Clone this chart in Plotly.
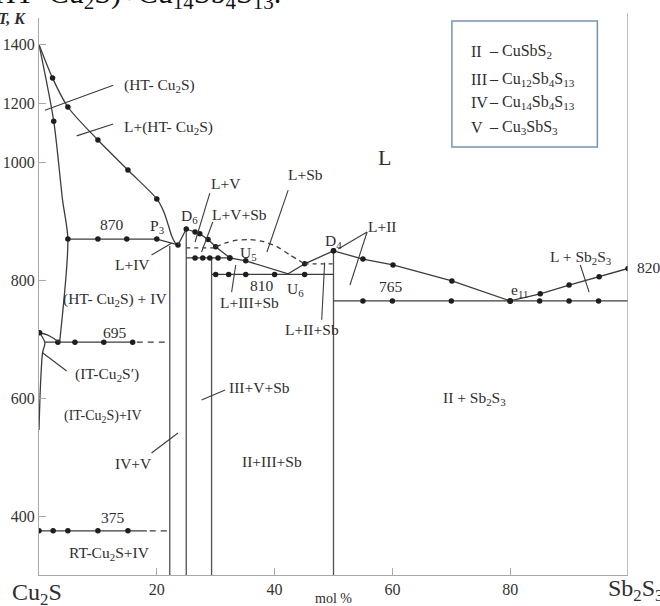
import plotly.graph_objects as go

# ---------------- data (x: mol % Sb2S3, T: K) ----------------
liq_cu2s_x = [0, 2.3, 4.9, 10.0, 15.1, 20.0, 21.2, 22.0, 22.5, 23.1, 23.6]
liq_cu2s_T = [1400, 1286, 1188, 1076, 987, 938, 916, 892, 876, 864, 860]
liq_cu2s_dx = [2.3, 4.9, 10.0, 15.1, 20.0]
liq_cu2s_dT = [1286, 1188, 1076, 987, 938]

solvus_x = [0, 2.5, 4.0, 4.9, 3.5]
solvus_T = [1400, 1140, 936, 870, 695]
solvus_dx = [2.5]
solvus_dT = [1140]

l870_x = [4.9, 10.0, 14.9, 20.0, 23.6]
l870_T = [870, 870, 870, 870, 860]
l870_dx = [4.9, 10.0, 14.9, 20.0, 23.6]
l870_dT = [870, 870, 870, 870, 860]

p3_d6_x = [23.6, 25.0]
p3_d6_T = [860, 887]

liq_mid_x = [25.0, 26.5, 27.3, 28.7, 30.0, 32.4, 35.1, 42.3, 45.1, 50.0]
liq_mid_T = [887, 882, 879, 869, 857, 838, 833, 811, 828, 850]
liq_mid_dx = [25.0, 26.5, 27.3, 28.7, 30.0, 32.4, 35.1, 45.1, 50.0]
liq_mid_dT = [887, 882, 879, 869, 857, 838, 833, 828, 850]

l838_x = [25.0, 26.5, 27.8, 29.0, 30.4, 32.4]
l838_T = [838, 838, 838, 838, 838, 838]
l838_dx = [26.5, 27.8, 29.0, 30.4, 32.4]
l838_dT = [838, 838, 838, 838, 838]

l810_x = [29.3, 30.0, 32.2, 35.1, 40.0, 45.1, 50.0]
l810_T = [810, 810, 810, 810, 810, 810, 810]
l810_dx = [30.0, 32.2, 35.1, 40.0, 45.1]
l810_dT = [810, 810, 810, 810, 810]

d855_x = [25.0, 30.0]
d855_T = [855, 855]
arc_x = [30.0, 31.9, 33.6, 35.8, 38.0, 40.4, 42.6, 45.1]
arc_T = [857, 864, 868, 869, 866, 857, 843, 828]
d828_x = [45.1, 50.0]
d828_T = [828, 828]

liq_right_x = [50.0, 55.0, 60.1, 70.1, 80.0]
liq_right_T = [850, 836, 826, 799, 765]
liq_sb_x = [80.0, 85.1, 90.0, 95.1, 100.0]
liq_sb_T = [765, 777, 792, 806, 820]

l765_x = [50, 55, 60, 70, 80, 85, 90, 95, 100]
l765_T = [765] * 9
l765_dx = [55, 60, 70, 80, 85, 90, 95]
l765_dT = [765] * 7

l695_x = [1.0, 3.2, 6.1, 11.0, 15.9]
l695_T = [695, 695, 695, 695, 695]
l695_dx = [3.2, 6.1, 11.0, 15.9]
l695_dT = [695, 695, 695, 695]
l695_dash_x = [16.6, 22.2]
l695_dash_T = [695, 695]

l375_x = [0, 2.4, 4.9, 10.0, 15.1, 18.3]
l375_T = [375, 375, 375, 375, 375, 375]
l375_dx = [0, 2.4, 4.9, 10.0, 15.1]
l375_dT = [375, 375, 375, 375, 375]
l375_dash_x = [18.8, 22.2]
l375_dash_T = [375, 375]

it_arc_x = [0.1, 1.5, 2.7, 3.5]
it_arc_T = [711, 707, 700, 695]
it_bound_x = [0.1, 1.0, 0.6, 0.24, 0.0]
it_bound_T = [711, 694, 677, 619, 546]
it_dot_x = [0.1]
it_dot_T = [711]

vert_x = [22.2, 25.0, 29.3, 50.0]
vert_top = [858, 887, 838, 850]
T_min = 300

leaders = [
    ([1.0, 12.6], [1177, 1262]),
    ([6.4, 12.6], [1090, 1130]),
    ([29.0, 26.5], [948, 865]),
    ([42.3, 38.7], [953, 848]),
    ([29.5, 27.6], [899, 848]),
    ([33.4, 32.7], [826, 780]),
    ([48.5, 48.0], [830, 733]),
    ([19.1, 22.5], [843, 863]),
    ([0.6, 4.7], [677, 646]),
    ([31.6, 27.6], [614, 597]),
    ([19.1, 23.6], [507, 541]),
    ([55.7, 50.8], [882, 853]),
    ([55.7, 52.8], [882, 792]),
    ([91.9, 93.4], [826, 780]),
]

labels = [
    ("(HT- Cu<sub>2</sub>S)", 14.1, 1262, "left", 15.5),
    ("L+(HT- Cu<sub>2</sub>S)", 14.1, 1120, "left", 15.5),
    ("L", 58.6, 1018, "center", 22),
    ("L+V", 31.7, 965, "center", 15.5),
    ("L+Sb", 45.2, 979, "center", 15.5),
    ("L+V+Sb", 34.1, 911, "center", 15.5),
    ("U<sub>5</sub>", 35.5, 845, "center", 15.5),
    ("810", 37.9, 792, "center", 15.5),
    ("U<sub>6</sub>", 43.5, 785, "center", 15.5),
    ("L+III+Sb", 35.7, 762, "center", 15.5),
    ("L+II+Sb", 46.4, 716, "center", 15.5),
    ("D<sub>4</sub>", 50.0, 866, "center", 15.5),
    ("D<sub>6</sub>", 25.5, 909, "center", 15.5),
    ("P<sub>3</sub>", 20.0, 892, "center", 15.5),
    ("870", 12.4, 894, "center", 15.5),
    ("L+IV", 15.8, 826, "center", 15.5),
    ("(HT- Cu<sub>2</sub>S) + IV", 12.9, 768, "center", 15.5),
    ("695", 12.9, 711, "center", 15.5),
    ("(IT-Cu<sub>2</sub>S′)", 11.5, 641, "center", 15.5),
    ("III+V+Sb", 37.5, 618, "center", 15.5),
    ("(IT-Cu<sub>2</sub>S)+IV", 10.8, 569, "center", 14),
    ("IV+V", 16.0, 490, "center", 15.5),
    ("II+III+Sb", 39.5, 492, "center", 15.5),
    ("II + Sb<sub>2</sub>S<sub>3</sub>", 74.0, 600, "center", 15.5),
    ("L+II", 58.4, 891, "center", 15.5),
    ("765", 59.8, 789, "center", 15.5),
    ("e<sub>11</sub>", 81.5, 783, "center", 15.5),
    ("L + Sb<sub>2</sub>S<sub>3</sub>", 91.9, 838, "center", 15.5),
    ("RT-Cu<sub>2</sub>S+IV", 12.0, 336, "center", 15.5),
    ("375", 12.5, 397, "center", 15.5),
]

legend_num = ["II", "III", "IV", "V"]
legend_form = ["– CuSbS<sub>2</sub>", "– Cu<sub>12</sub>Sb<sub>4</sub>S<sub>13</sub>",
               "– Cu<sub>14</sub>Sb<sub>4</sub>S<sub>13</sub>", "– Cu<sub>3</sub>SbS<sub>3</sub>"]
legend_T = [1375, 1280, 1202, 1120]

y_tick_T = [400, 600, 800, 1000, 1200, 1400]
x_ticks = [20, 40, 60, 80]

# ---------------- scale: upper part (>1000 K) compressed by 2 ----------------
def fy(T):
    return T if T <= 1000 else 1000 + (T - 1000) / 2.0

def fys(lst):
    return [fy(t) for t in lst]

FONT = "Liberation Serif, Times New Roman, serif"
LINE = "#3c3c3c"
TXT = "#2e2e2e"
fig = go.Figure()

def line(x, T, dash="solid", shape="linear", color=LINE, width=1.3):
    fig.add_trace(go.Scatter(x=x, y=fys(T), mode="lines",
                             line=dict(color=color, width=width, dash=dash, shape=shape, smoothing=0.8),
                             hoverinfo="skip", showlegend=False))

def dots(x, T):
    fig.add_trace(go.Scatter(x=x, y=fys(T), mode="markers",
                             marker=dict(color="#1e1e1e", size=5.5),
                             hoverinfo="skip", showlegend=False))

for xv, top in zip(vert_x, vert_top):
    line([xv, xv], [T_min, top], color="#505050", width=1.3)

line(liq_cu2s_x, liq_cu2s_T, shape="spline")
dots(liq_cu2s_dx, liq_cu2s_dT)
line(solvus_x, solvus_T, shape="spline")
dots(solvus_dx, solvus_dT)
line(l870_x, l870_T)
dots(l870_dx, l870_dT)
line(p3_d6_x, p3_d6_T)
line(liq_mid_x, liq_mid_T)
dots(liq_mid_dx, liq_mid_dT)
line(l838_x, l838_T)
dots(l838_dx, l838_dT)
line(l810_x, l810_T)
dots(l810_dx, l810_dT)
line(d855_x, d855_T, dash="4px,4px")
line(arc_x, arc_T, dash="5px,4px", shape="spline")
line(d828_x, d828_T, dash="4px,4px")
line(liq_right_x, liq_right_T)
dots(liq_right_x, liq_right_T)
line(liq_sb_x, liq_sb_T)
dots(liq_sb_x, liq_sb_T)
line(l765_x, l765_T)
dots(l765_dx, l765_dT)
line(l695_x, l695_T)
dots(l695_dx, l695_dT)
line(l695_dash_x, l695_dash_T, dash="6px,5px")
line(l375_x, l375_T)
dots(l375_dx, l375_dT)
line(l375_dash_x, l375_dash_T, dash="6px,5px")
line(it_arc_x, it_arc_T, shape="spline")
line(it_bound_x, it_bound_T, shape="spline")
dots(it_dot_x, it_dot_T)

for lx, lT in leaders:
    line(lx, lT, width=1.1)

ann = []
for text, x, T, anchor, size in labels:
    ann.append(dict(text=text, x=x, y=fy(T), xref="x", yref="y", xanchor=anchor, yanchor="middle",
                    showarrow=False, font=dict(family=FONT, size=size, color=TXT)))

for num, form, T in zip(legend_num, legend_form, legend_T):
    ann.append(dict(text=num, x=73.0, y=fy(T), xref="x", yref="y", xanchor="left", yanchor="middle",
                    showarrow=False, font=dict(family=FONT, size=16, color=TXT)))
    ann.append(dict(text=form, x=76.0, y=fy(T), xref="x", yref="y", xanchor="left", yanchor="middle",
                    showarrow=False, font=dict(family=FONT, size=16, color=TXT)))

ann += [
    dict(text="820", x=1.0118, y=fy(821), xref="paper", yref="y", xanchor="left", yanchor="middle",
         showarrow=False, font=dict(family=FONT, size=15.5, color=TXT)),
    dict(text="Cu<sub>2</sub>S", x=-0.050, y=-0.034, xref="paper", yref="paper", xanchor="left",
         yanchor="middle", showarrow=False, font=dict(family=FONT, size=24, color=TXT)),
    dict(text="Sb<sub>2</sub>S<sub>3</sub>", x=0.963, y=-0.027, xref="paper", yref="paper", xanchor="left",
         yanchor="middle", showarrow=False, font=dict(family=FONT, size=24, color=TXT)),
    dict(text="mol %", x=0.50, y=-0.042, xref="paper", yref="paper", xanchor="center", yanchor="middle",
         showarrow=False, font=dict(family=FONT, size=14, color=TXT)),
    dict(text="<b><i>T, K</i></b>", x=-0.0192, y=1.0, xref="paper", yref="paper", xanchor="right",
         yanchor="middle", showarrow=False, font=dict(family=FONT, size=16, color=TXT)),
    dict(text="(HT- Cu<sub>2</sub>S)+Cu<sub>14</sub>Sb<sub>4</sub>S<sub>13</sub>.", x=0.414, y=1.003,
         xref="paper", yref="paper", xanchor="right", yanchor="bottom",
         showarrow=False, font=dict(family=FONT, size=30, color="#111")),
]

shapes = [
    dict(type="rect", xref="x", yref="y", x0=70.1, x1=94.8, y0=fy(1052), y1=fy(1480),
         line=dict(color="#7393b8", width=1.5), fillcolor="rgba(0,0,0,0)"),
    dict(type="line", xref="x", yref="paper", x0=100, x1=100, y0=0, y1=1.009,
         line=dict(color="#9a9a9a", width=1.3)),
]

fig.update_layout(
    width=660, height=606,
    margin=dict(l=39, r=32, t=18, b=31, autoexpand=False),
    paper_bgcolor="white", plot_bgcolor="white",
    annotations=ann, shapes=shapes, showlegend=False,
    xaxis=dict(range=[0, 100], automargin=False, showgrid=False, zeroline=False, showline=True,
               linecolor="#a8a8a8", linewidth=1.3, ticks="inside", ticklen=7, tickcolor="#a8a8a8",
               tickvals=x_ticks, ticktext=[str(v) for v in x_ticks],
               tickfont=dict(family=FONT, size=16, color="#333")),
    yaxis=dict(range=[300, 1245], automargin=False, showgrid=False, zeroline=False, showline=True,
               linecolor="#a8a8a8", linewidth=1.3, ticks="inside", ticklen=7, tickcolor="#a8a8a8",
               tickvals=[fy(t) for t in y_tick_T], ticktext=[str(t) for t in y_tick_T],
               tickfont=dict(family=FONT, size=16, color="#333")),
)

fig.write_html("out.html")
